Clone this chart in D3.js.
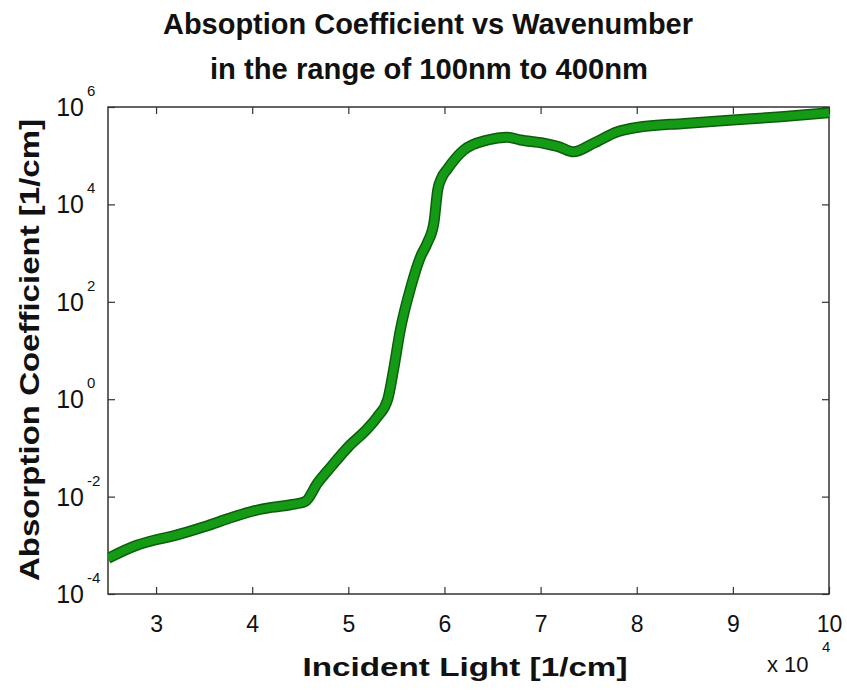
<!DOCTYPE html>
<html>
<head>
<meta charset="utf-8">
<script src="https://cdn.jsdelivr.net/npm/d3@7"></script>
<style>
  body { margin: 0; background: #fff; }
  text { font-family: "Liberation Sans", Arial, Helvetica, sans-serif; fill: #111; }
</style>
</head>
<body>
<div id="chart"></div>
<script>
// wavenumber [1/cm] and absorption coefficient [1/cm]
const wavenumber = [25000, 28000, 30000, 32000, 35000, 38000, 40000, 42000, 44000, 45500,
  46800, 48200, 50000, 52000, 53000, 54100, 54700, 55400, 56500, 57500, 58200, 58900,
  59300, 59700, 60300, 62000, 64500, 66500, 67900, 70300, 72000, 73400, 75500, 78000,
  80000, 85000, 90000, 95000, 100000];
const absorption = [5.4e-4, 1.0e-3, 1.3e-3, 1.6e-3, 2.4e-3, 3.8e-3, 5.0e-3, 6.0e-3, 6.8e-3, 7.9e-3,
  1.9e-2, 4.1e-2, 0.105, 0.25, 0.43, 1.0, 4.0, 26, 200, 830, 1600, 4200,
  2.0e4, 3.5e4, 5.3e4, 1.3e5, 2.1e5, 2.4e5, 2.1e5, 1.8e5, 1.5e5, 1.2e5, 1.8e5, 3.1e5,
  3.8e5, 4.6e5, 5.4e5, 6.3e5, 7.6e5];
const xTicks = [30000, 40000, 50000, 60000, 70000, 80000, 90000, 100000];
const yTicks = [1e-4, 1e-2, 1e0, 1e2, 1e4, 1e6];

const width = 847, height = 690;
const margin = { left: 108, right: 18, top: 107, bottom: 96 };

const svg = d3.select('#chart').append('svg')
  .attr('width', width)
  .attr('height', height);

const x = d3.scaleLinear().domain([25000, 100000]).range([margin.left, width - margin.right]);
const y = d3.scaleLog().domain([1e-4, 1e6]).range([height - margin.bottom, margin.top]);

// box
svg.append('rect')
  .attr('x', x.range()[0]).attr('y', y.range()[1])
  .attr('width', x.range()[1] - x.range()[0])
  .attr('height', y.range()[0] - y.range()[1])
  .attr('fill', 'none').attr('stroke', '#333').attr('stroke-width', 1.5);

// inward ticks, mirrored on top and right
const tickLen = 7;
const gx = svg.append('g').attr('transform', `translate(0,${y.range()[0]})`)
  .call(d3.axisBottom(x).tickValues(xTicks).tickSizeInner(-tickLen).tickSizeOuter(0)
    .tickPadding(tickLen + 15).tickFormat(d => d / 1e4));
gx.select('.domain').remove();
gx.selectAll('line').attr('stroke', '#333').attr('stroke-width', 1.2);
gx.selectAll('text').attr('font-size', 23).attr('fill', '#111');

const gxTop = svg.append('g').attr('transform', `translate(0,${y.range()[1]})`)
  .call(d3.axisTop(x).tickValues(xTicks).tickSizeInner(-tickLen).tickSizeOuter(0).tickFormat(''));
gxTop.select('.domain').remove();
gxTop.selectAll('line').attr('stroke', '#333').attr('stroke-width', 1.2);

const gy = svg.append('g').attr('transform', `translate(${x.range()[0]},0)`)
  .call(d3.axisLeft(y).tickValues(yTicks).tickSizeInner(-tickLen).tickSizeOuter(0).tickFormat(''));
gy.select('.domain').remove();
gy.selectAll('line').attr('stroke', '#333').attr('stroke-width', 1.2);

const gyRight = svg.append('g').attr('transform', `translate(${x.range()[1]},0)`)
  .call(d3.axisRight(y).tickValues(yTicks).tickSizeInner(-tickLen).tickSizeOuter(0).tickFormat(''));
gyRight.select('.domain').remove();
gyRight.selectAll('line').attr('stroke', '#333').attr('stroke-width', 1.2);

// y tick labels as 10 with exponent
const yLab = svg.append('g').selectAll('g').data(yTicks).enter().append('g')
  .attr('transform', d => `translate(0,${y(d)})`);
yLab.append('text')
  .attr('x', 84).attr('y', 9)
  .attr('text-anchor', 'end')
  .attr('font-size', 25)
  .text('10');
yLab.append('text')
  .attr('x', 87).attr('y', -11)
  .attr('font-size', 15)
  .text(d => Math.round(Math.log10(d)));

// curve
const pts = wavenumber.map((w, i) => [w, absorption[i]]);
const line = d3.line().x(d => x(d[0])).y(d => y(d[1])).curve(d3.curveMonotoneX);
svg.append('clipPath').attr('id', 'clip').append('rect')
  .attr('x', x.range()[0]).attr('y', y.range()[1] - 10)
  .attr('width', x.range()[1] - x.range()[0])
  .attr('height', y.range()[0] - y.range()[1] + 10);
svg.append('path').datum(pts)
  .attr('clip-path', 'url(#clip)')
  .attr('d', line).attr('fill', 'none')
  .attr('stroke', '#0c5e0c').attr('stroke-width', 11)
  .attr('stroke-linejoin', 'round');
svg.append('path').datum(pts)
  .attr('clip-path', 'url(#clip)')
  .attr('d', line).attr('fill', 'none')
  .attr('stroke', '#159a15').attr('stroke-width', 8)
  .attr('stroke-linejoin', 'round');

// titles
svg.append('text')
  .attr('x', 428).attr('y', 34)
  .attr('text-anchor', 'middle')
  .attr('font-size', 29).attr('font-weight', 'bold')
  .attr('textLength', 530).attr('lengthAdjust', 'spacingAndGlyphs')
  .text('Absoption Coefficient vs Wavenumber');
svg.append('text')
  .attr('x', 429).attr('y', 79)
  .attr('text-anchor', 'middle')
  .attr('font-size', 29).attr('font-weight', 'bold')
  .attr('textLength', 438).attr('lengthAdjust', 'spacingAndGlyphs')
  .text('in the range of 100nm to 400nm');

// axis labels
svg.append('text')
  .attr('x', 465).attr('y', 676)
  .attr('text-anchor', 'middle')
  .attr('font-size', 26).attr('font-weight', 'bold')
  .attr('textLength', 325).attr('lengthAdjust', 'spacingAndGlyphs')
  .text('Incident Light [1/cm]');
svg.append('text')
  .attr('transform', 'translate(39,350) rotate(-90)')
  .attr('text-anchor', 'middle')
  .attr('font-size', 27).attr('font-weight', 'bold')
  .attr('textLength', 462).attr('lengthAdjust', 'spacingAndGlyphs')
  .text('Absorption Coefficient [1/cm]');

// multiplier
svg.append('text')
  .attr('x', 767).attr('y', 672)
  .attr('font-size', 22)
  .text('x 10');
svg.append('text')
  .attr('x', 822).attr('y', 652)
  .attr('font-size', 15)
  .text('4');
</script>
</body>
</html>
